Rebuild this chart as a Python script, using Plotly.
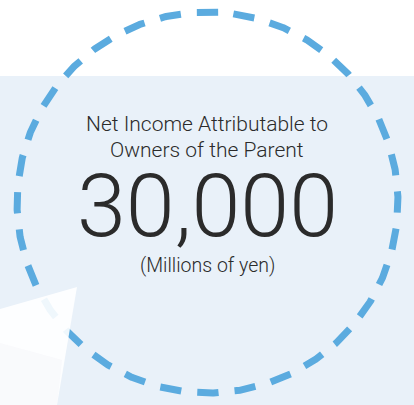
import numpy as np
import plotly.graph_objects as go

# Figure content
TITLE_LINES = ["Net Income Attributable to", "Owners of the Parent"]
NET_INCOME = 30000          # millions of yen
UNIT_LABEL = "(Millions of yen)"

W, H = 414, 405
PANEL_TOP = 76
CX, CY, R = 207.5, 202.5, 190.5
N_DASHES = 32
DASH_FRAC = 0.57

BLUE = "#5BABDF"
PANEL = "#E9F1F9"
TEXT = "#2B2B2B"

# dashed ring, starting half a dash before the top so dashes sit at 12/3/6/9 o'clock
t = np.linspace(0, 2 * np.pi, 1441)
t0 = np.pi / 2 - (2 * np.pi * R / N_DASHES * DASH_FRAC / 2) / R
ring_x = CX + R * np.cos(t0 + t)
ring_y = CY - R * np.sin(t0 + t)
seg = np.hypot(np.diff(ring_x), np.diff(ring_y)).sum()
period = seg / N_DASHES
dash = period * DASH_FRAC

fig = go.Figure()
fig.add_trace(go.Scatter(
    x=ring_x, y=ring_y, mode="lines", hoverinfo="skip", cliponaxis=False,
    line=dict(color=BLUE, width=7, dash=f"{dash:.2f}px,{period - dash:.2f}px"),
))

shapes = [
    dict(type="rect", layer="below", x0=0, x1=W, y0=PANEL_TOP, y1=H,
         fillcolor=PANEL, line=dict(width=0)),
    dict(type="path", layer="above", path="M 0 309 L 77 287 L 57 405 L 0 405 Z",
         fillcolor="rgba(255,255,255,0.9)", line=dict(width=0)),
    dict(type="path", layer="above", path="M 0 343 L 62 360 L 57 405 L 0 405 Z",
         fillcolor="rgba(246,246,250,0.5)", line=dict(width=0)),
]

font_family = "Roboto, 'Liberation Sans', Arial, sans-serif"


def label(text, y, size):
    return dict(x=207, y=y, text=text, showarrow=False, xanchor="center", yanchor="middle",
                font=dict(family=font_family, size=size, color=TEXT, weight=300))


annotations = [
    label(TITLE_LINES[0], 124.4, 21),
    label(TITLE_LINES[1], 150.4, 21),
    label(f"{NET_INCOME:,}", 205.6, 88),
    label(UNIT_LABEL, 265.8, 19.5),
]

fig.update_layout(
    width=W, height=H, margin=dict(l=0, r=0, t=0, b=0),
    paper_bgcolor="white", plot_bgcolor="white", showlegend=False,
    xaxis=dict(range=[0, W], visible=False, fixedrange=True),
    yaxis=dict(range=[H, 0], visible=False, fixedrange=True),
    shapes=shapes, annotations=annotations,
)

fig.write_html("out.html", config={"displayModeBar": False})
